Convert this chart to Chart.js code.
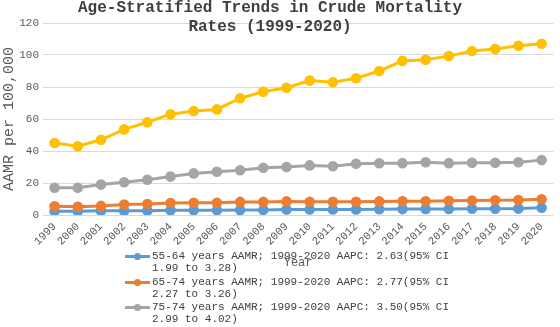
<!DOCTYPE html>
<html lang="en">
<head>
    <meta charset="UTF-8">
    <title>Age-Stratified Trends in Crude Mortality Rates</title>
    <script src="https://cdn.jsdelivr.net/npm/chart.js"></script>
    <style>
        body {
            margin: 0;
            padding: 0;
            background: white;
            font-family: "Liberation Mono", "Courier New", monospace;
        }
        .wrap {
            position: relative;
            width: 560px;
            height: 327px;
        }
        #legend {
            position: absolute;
            left: 125px;
            top: 250px;
            font-size: 11px;
            line-height: 12.3px;
            color: #404040;
        }
        .item {
            display: flex;
            align-items: flex-start;
            margin-bottom: 1px;
        }
        .swatch {
            position: relative;
            width: 25px;
            height: 12px;
            margin-right: 2px;
            flex: none;
        }
        .swatch .ln {
            position: absolute;
            left: 0;
            right: 0;
            top: 5px;
            height: 3px;
        }
        .swatch .dot {
            position: absolute;
            left: 9px;
            top: 3px;
            width: 7px;
            height: 7px;
            border-radius: 50%;
        }
    </style>
</head>
<body>
    <div class="wrap">
        <canvas id="chart" width="560" height="327"></canvas>
        <div id="legend"></div>
    </div>

    <script>
        const titleLines = ["Age-Stratified Trends in Crude Mortality", "Rates (1999-2020)"];
        const years = ["1999", "2000", "2001", "2002", "2003", "2004", "2005", "2006", "2007", "2008", "2009",
                       "2010", "2011", "2012", "2013", "2014", "2015", "2016", "2017", "2018", "2019", "2020"];

        const age5564 = [2.3, 2.3, 2.6, 2.6, 2.7, 2.9, 3.0, 3.0, 3.1, 3.2, 3.4, 3.4, 3.5, 3.5, 3.6, 3.7, 3.8, 3.8, 3.9, 3.9, 4.0, 4.5];
        const age6574 = [5.5, 5.2, 5.7, 6.5, 6.8, 7.5, 7.6, 7.6, 8.2, 8.2, 8.5, 8.3, 8.3, 8.3, 8.5, 8.6, 8.6, 8.9, 9.0, 9.2, 9.3, 9.8];
        const age7584 = [17, 17, 19, 20.5, 22, 24, 26, 27, 28, 29.5, 30, 31, 30.5, 32, 32.3, 32.4, 33, 32.4, 32.6, 32.7, 33, 34.3];
        const age85 = [45, 43, 47, 53.5, 58, 63, 65, 66, 73, 77, 79.5, 84, 83, 85.5, 90, 96.3, 97, 99.3, 102.5, 103.7, 105.8, 107];

        const label5564 = ["55-64 years AAMR; 1999-2020 AAPC: 2.63(95% CI", "1.99 to 3.28)"];
        const label6574 = ["65-74 years AAMR; 1999-2020 AAPC: 2.77(95% CI", "2.27 to 3.26)"];
        const label7584 = ["75-74 years AAMR; 1999-2020 AAPC: 3.50(95% CI", "2.99 to 4.02)"];
        const label85 = ["85+ years AAMR"];

        const yTicks = [0, 20, 40, 60, 80, 100, 120];

        const font = "'Liberation Mono', 'Courier New', monospace";

        const series = [
            { label: label5564, data: age5564, color: "#5B9BD5", legend: true },
            { label: label6574, data: age6574, color: "#ED7D31", legend: true },
            { label: label7584, data: age7584, color: "#A5A5A5", legend: true },
            { label: label85, data: age85, color: "#FFC000", legend: false }
        ];

        // title sits over the top of the plot, so draw it ourselves
        const titlePlugin = {
            id: "overlayTitle",
            afterDraw(chart) {
                const ctx = chart.ctx;
                ctx.save();
                ctx.font = "bold 16px " + font;
                ctx.fillStyle = "#404040";
                ctx.textAlign = "center";
                ctx.textBaseline = "middle";
                titleLines.forEach((t, i) => ctx.fillText(t, 270, 8 + i * 19));
                ctx.restore();
            }
        };

        new Chart(document.getElementById("chart"), {
            type: "line",
            data: {
                labels: years,
                datasets: series.map(s => ({
                    label: s.label.join(" "),
                    data: s.data,
                    borderColor: s.color,
                    backgroundColor: s.color,
                    borderWidth: 3,
                    pointRadius: 3.8,
                    pointHoverRadius: 3.8,
                    tension: 0,
                    fill: false
                })).reverse()
            },
            options: {
                responsive: false,
                animation: false,
                layout: { padding: { top: 23, bottom: 57, right: 2, left: 0 } },
                plugins: {
                    legend: { display: false },
                    title: { display: false },
                    tooltip: { enabled: false }
                },
                scales: {
                    x: {
                        offset: true,
                        afterFit: s => { s.height = 55; },
                        grid: { display: false, drawTicks: false },
                        border: { display: false },
                        ticks: {
                            font: { family: font, size: 11 },
                            color: "#595959",
                            minRotation: 45,
                            maxRotation: 45,
                            padding: 5,
                            autoSkip: false
                        },
                        title: {
                            display: true,
                            text: "Year",
                            font: { family: font, size: 12 },
                            color: "#595959",
                            padding: 0
                        }
                    },
                    y: {
                        min: 0,
                        max: 120,
                        afterFit: s => { s.width = 43; },
                        afterBuildTicks: s => { s.ticks = yTicks.map(v => ({ value: v })); },
                        grid: { color: "#d9d9d9", drawTicks: false, lineWidth: 1 },
                        border: { display: false },
                        ticks: {
                            font: { family: font, size: 11 },
                            color: "#595959",
                            padding: 4
                        },
                        title: {
                            display: true,
                            text: "AAMR per 100,000",
                            font: { family: font, size: 15 },
                            color: "#595959",
                            padding: 0
                        }
                    }
                }
            },
            plugins: [titlePlugin]
        });

        // html legend with wrapped lines, like the original
        const legendBox = document.getElementById("legend");
        series.filter(s => s.legend).forEach(s => {
            const item = document.createElement("div");
            item.className = "item";
            item.innerHTML = '<div class="swatch"><div class="ln" style="background:' + s.color + '"></div>' +
                '<div class="dot" style="background:' + s.color + '"></div></div>' +
                '<div>' + s.label.join("<br>") + '</div>';
            legendBox.appendChild(item);
        });
    </script>
</body>
</html>
